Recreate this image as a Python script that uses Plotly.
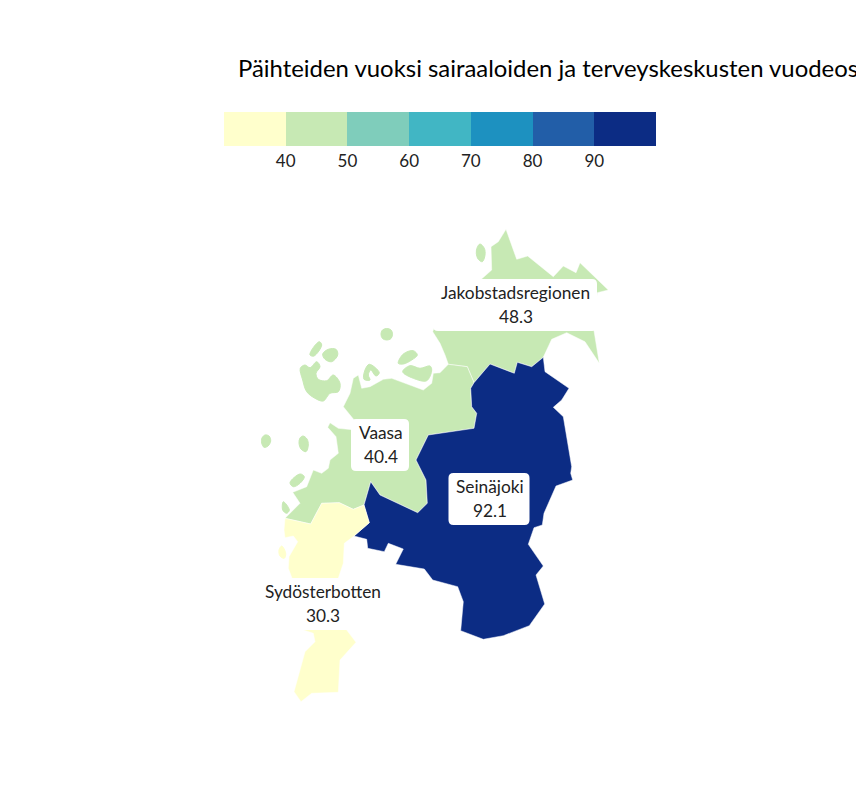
import plotly.graph_objects as go

title = "Päihteiden vuoksi sairaaloiden ja terveyskeskusten vuodeosastoilla hoidetut potilaat"
regions = ["Jakobstadsregionen", "Vaasa", "Seinäjoki", "Sydösterbotten"]
values = [48.3, 40.4, 92.1, 30.3]

class_colors = ["#ffffcc", "#c7e9b4", "#7fcdbb", "#41b6c4", "#1d91c0", "#225ea8", "#0c2c84"]
class_breaks = [30, 40, 50, 60, 70, 80, 90, 100]
tick_vals = [40, 50, 60, 70, 80, 90]

# label boxes: centre x, centre y
label_x = [515, 380, 489, 322.5]
label_y = [305, 445, 499, 604]
label_w = [164, 58, 81, 129]
label_h = 52

# outlines of the regions, traced from the map (screen units)
# first ring is the mainland, the rest are islands
jakobstad_rings = [
    [(482.3,278.3),(491.7,270),(491,246.7),(498.3,241.7),(506,229.3),(516.7,259.3),(527.7,256),
     (553.3,276.7),(563.3,266),(576,272.7),(580,262.7),(596.7,279.3),(608.3,290),(597.3,292.7),
     (594,330.7),(599.3,363.3),(585,341.7),(566.7,332.7),(551.7,339.3),(543.3,357.3),(531.7,366.7),
     (517.3,362.3),(514.3,373.3),(490,364),(474,382.7),(467.3,366.7),(448.3,364.3),(445,355),
     (440,343.3),(432.7,331.7),(434,328.3),(436.7,320)],
    [(480,244),(484.3,248.3),(485,255),(482.3,261.7),(478.3,259.3),(476.3,253.3),(477.3,247.3)],
]
vaasa_rings = [
    [(448.3,364.3),(440,372.7),(433.3,373.3),(431.7,383.3),(423.3,390),(403.3,382.7),(391.7,378.3),
     (383.3,379.3),(370,386.7),(361.7,388.3),(358.3,375),(353.3,378.3),(350,393.3),(343.3,406.7),
     (353.3,419),(355,430),(338.3,428.3),(330,422.7),(327.7,427.3),(336,436.7),(338.3,453.3),
     (330,460),(328.3,468.3),(321.7,473.3),(313.3,470),(306.7,486.7),(292.7,492.3),(300,503.3),
     (285,518.3),(310.7,524),(321.7,503.3),(339.3,502.7),(353.3,509.3),(364,505),(370.7,481.7),
     (380,495),(417.7,512.7),(427.3,503.3),(426,480),(416,460),(428.3,435),(474,428.3),
     (476.7,413.3),(471.7,406.7),(470.7,388.3),(474,382.7),(467.3,366.7)],
    [(300.3,368.3),(305,365),(310,367.7),(316.7,361.7),(320,366.7),(316,373.3),(318.3,379.3),(326.7,380.7),
     (333.3,375),(340,383.3),(338.3,391.7),(330,393.3),(323.3,401),(315,398.3),(306.7,391.7),(302.7,380)],
    [(319.3,341.7),(321.7,345),(314,356),(310,355),(311.7,350)],
    [(328.3,349.3),(336,349.3),(337.7,355),(331.7,361.7),(325,359.3),(322.7,354)],
    [(386.7,328.5),(391,330),(392.5,334.3),(391,338.5),(386.7,340),(382.5,338.5),(381,334.3),(382.5,330)],
    [(398.3,363.3),(403.3,354),(413.3,350.7),(417.3,355),(411.7,360),(403.3,364)],
    [(402.7,371.7),(410,365.7),(420,368.3),(430,366),(431.7,370),(426.7,380.7),(413.3,378.3)],
    [(364,379.3),(365,370),(369.3,364.3),(379.3,372.7),(376,376),(370.7,370),(368.3,375),(370,380)],
    [(265,435),(269,436),(270.7,441),(268,446),(264,447.3),(261.7,443),(262,438)],
    [(303,436),(307,439),(308.3,445),(306,451.7),(301,449),(299,443),(300,438)],
    [(290,482.7),(300,474),(304.3,476.7),(300,483.3),(293.3,486.7)],
    [(283.3,501.7),(289.3,510),(286.7,513.3),(282.7,510)],
]
seinajoki_rings = [
    [(543.3,357.3),(545,371.7),(569,388.3),(561.7,400),(553.3,407.3),(563.3,416.7),(571.7,466.7),
     (570.7,473.3),(572.7,480),(556,486),(544,513.3),(542.3,525),(534,527.7),(528.3,544.3),
     (543.3,566),(536,575),(544.7,604),(529.3,625.7),(503.3,635.7),(483.3,639.3),(460.7,630.7),
     (463.3,601.7),(457.7,586.7),(432.7,580),(424.3,569),(395.7,564.3),(403.3,549),(388.3,543.3),
     (384.3,551.7),(367.7,548.3),(366.7,539.3),(354,536),(369.3,522.7),(364,505),(370.7,481.7),
     (380,495),(417.7,512.7),(427.3,503.3),(426,480),(416,460),(428.3,435),(474,428.3),
     (476.7,413.3),(471.7,406.7),(470.7,388.3),(474,382.7),(490,364),(514.3,373.3),(517.3,362.3),
     (531.7,366.7)],
]
sydosterbotten_rings = [
    [(285,518.3),(310.7,524),(321.7,503.3),(339.3,502.7),(353.3,509.3),(364,505),(369.3,522.7),
     (354,536),(344.3,543.3),(343.3,563.3),(338.3,578.3),(346.7,630),(356,642.3),(340,660),
     (338.3,692.3),(311.7,693.3),(301,701.7),(294,691.7),(305,651.7),(315,641.7),(313.3,633.3),
     (303.3,630),(291.7,577.3),(288.3,568.3),(289,556.7),(297.7,541.7),(293.3,536),(285,537.7),(284,530)],
    [(281.7,546),(285.7,553.3),(284.3,558.3),(280,556),(279,550)],
]
outlines = [jakobstad_rings, vaasa_rings, seinajoki_rings, sydosterbotten_rings]

# the page body has an 8px margin, so the plot is shifted back by that
page_w, page_h, body = 864, 776, 8


def class_color(v):
    for i in range(len(class_colors)):
        if class_breaks[i] <= v < class_breaks[i + 1]:
            return class_colors[i]
    return class_colors[-1]


def rounded_box(cx, cy, w, h, r=5):
    x0, x1, y0, y1 = cx - w / 2, cx + w / 2, cy - h / 2, cy + h / 2
    return (f"M{x0+r},{y0} L{x1-r},{y0} Q{x1},{y0} {x1},{y0+r} L{x1},{y1-r} Q{x1},{y1} {x1-r},{y1} "
            f"L{x0+r},{y1} Q{x0},{y1} {x0},{y1-r} L{x0},{y0+r} Q{x0},{y0} {x0+r},{y0} Z")


def ring_xy(rings):
    xs, ys = [], []
    for ring in rings:
        xs += [p[0] for p in ring] + [ring[0][0], None]
        ys += [p[1] for p in ring] + [ring[0][1], None]
    return xs, ys


fig = go.Figure()

for name, val, rings in zip(regions, values, outlines):
    col = class_color(val)
    xs, ys = ring_xy(rings[:1])
    fig.add_trace(go.Scatter(x=xs, y=ys, mode="lines", fill="toself", fillcolor=col,
                             line=dict(color="white", width=0.5), name=name, showlegend=False))
    if len(rings) > 1:
        xs, ys = ring_xy(rings[1:])
        fig.add_trace(go.Scatter(x=xs, y=ys, mode="lines", fill="toself", fillcolor=col,
                                 line=dict(color=col, width=1, shape="spline", smoothing=1),
                                 name=name, showlegend=False))

# stepped colour key, the markers themselves sit under the white label boxes
scale = []
for i, c in enumerate(class_colors):
    scale += [[i / len(class_colors), c], [(i + 1) / len(class_colors), c]]
fig.add_trace(go.Scatter(
    x=label_x, y=label_y, mode="markers", showlegend=False,
    marker=dict(size=1, color=values, colorscale=scale, cmin=30, cmax=100, showscale=True,
                colorbar=dict(orientation="h", x=(224 - body) / page_w, xanchor="left",
                              y=1 - (112 - body) / page_h, yanchor="top",
                              len=432 / page_w, lenmode="fraction", thickness=34, xpad=0, ypad=0,
                              outlinewidth=0, ticks="", tickvals=tick_vals, ticklabelposition="outside",
                              tickfont=dict(family="Lato", size=17, color="#222222"))),
))

for name, val, cx, cy, w in zip(regions, values, label_x, label_y, label_w):
    fig.add_shape(type="path", path=rounded_box(cx, cy, w, label_h), fillcolor="white",
                  line=dict(width=0), layer="above")
    fig.add_annotation(x=cx + 0.5, y=cy - 12.5, text=name, showarrow=False,
                       font=dict(family="Lato", size=17.3, color="#222222"))
    fig.add_annotation(x=cx + 0.5, y=cy + 11.5, text=str(val), showarrow=False,
                       font=dict(family="Lato", size=17.3, color="#222222"))

fig.update_layout(
    width=page_w, height=page_h, margin=dict(l=0, r=0, t=0, b=0),
    paper_bgcolor="white", plot_bgcolor="white",
    title=dict(text=title, x=(238 - body) / page_w, xanchor="left", y=1 - (69 - body) / page_h, yanchor="middle",
               font=dict(family="Lato", size=23.9, color="black")),
    xaxis=dict(range=[body, body + page_w], visible=False),
    yaxis=dict(range=[body + page_h, body], visible=False),
)

fig.write_html("out.html", default_width="864px", default_height="776px")
